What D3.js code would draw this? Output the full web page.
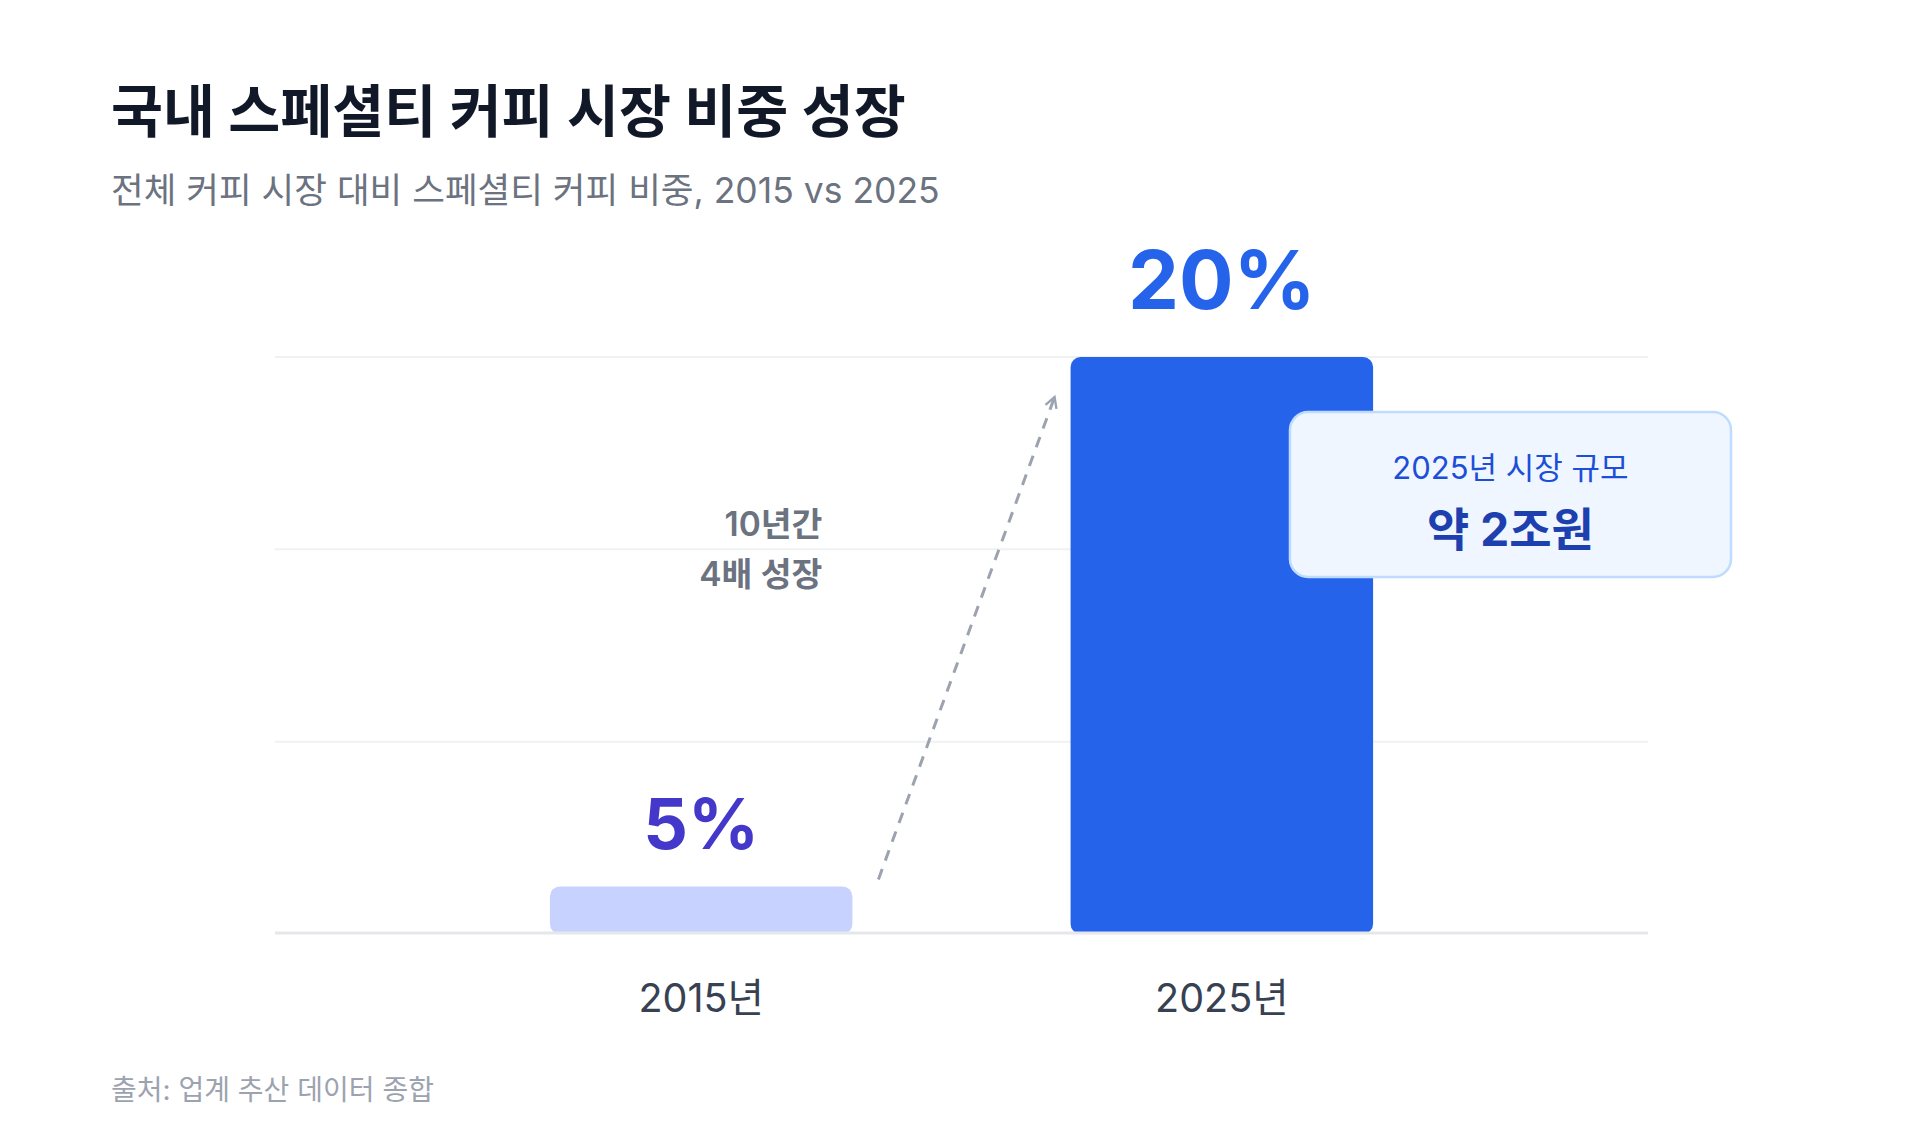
<!DOCTYPE html>
<html lang="ko">
<head>
<meta charset="utf-8">
<script src="https://cdn.jsdelivr.net/npm/d3@7"></script>
<style>
  body { margin: 0; background: #fff; }
  svg { display: block; font-family: Inter, "Noto Sans CJK KR", sans-serif; }
</style>
</head>
<body>
<div id="chart"></div>
<script>
// chart data
const years = ["2015년", "2025년"];
const shares = [5, 20];
const shareLabels = ["5%", "20%"];
const titleText = "국내 스페셜티 커피 시장 비중 성장";
const subtitleText = "전체 커피 시장 대비 스페셜티 커피 비중, 2015 vs 2025";
const growthNote = ["10년간", "4배 성장"];
const calloutLines = ["2025년 시장 규모", "약 2조원"];
const sourceText = "출처: 업계 추산 데이터 종합";

(function() {
    const W = 1920, H = 1147;
    const plot = { left: 275, right: 1648, top: 357, bottom: 934 };

    const svg = d3.select("#chart").append("svg")
        .attr("width", W)
        .attr("height", H);

    // titles
    svg.append("text")
        .attr("x", 111).attr("y", 132)
        .attr("font-size", 56.5).attr("font-weight", 700)
        .attr("fill", "#111827")
        .text(titleText);
    svg.append("text")
        .attr("x", 111).attr("y", 203)
        .attr("font-size", 35.5)
        .attr("fill", "#6b7280")
        .text(subtitleText);

    const x = d3.scaleBand()
        .domain(years)
        .range([plot.left, plot.right])
        .paddingInner(0.419)
        .paddingOuter(0.528);

    // growth is emphasised: power scale instead of linear
    const y = d3.scalePow().exponent(1.8)
        .domain([0, d3.max(shares)])
        .range([plot.bottom, plot.top]);

    const color = d3.scaleOrdinal().domain(years).range(["#c7d2fe", "#2563eb"]);
    const labelColor = d3.scaleOrdinal().domain(years).range(["#4338ca", "#2563eb"]);
    const labelSize = d3.scaleOrdinal().domain(years).range([70, 81]);

    // gridlines, evenly spaced
    const gridYs = d3.range(3).map(i => plot.top + (plot.bottom - plot.top) * i / 3);
    svg.append("g").selectAll("line")
        .data(gridYs)
        .enter().append("line")
        .attr("x1", plot.left).attr("x2", plot.right)
        .attr("y1", d => d).attr("y2", d => d)
        .attr("stroke", "#f0f1f4")
        .attr("stroke-width", 2);

    const data = years.map((yr, i) => ({ year: yr, value: shares[i], label: shareLabels[i] }));

    // bars
    svg.append("g").selectAll("rect")
        .data(data)
        .enter().append("rect")
        .attr("x", d => x(d.year))
        .attr("y", d => y(d.value))
        .attr("width", x.bandwidth())
        .attr("height", d => plot.bottom - y(d.value))
        .attr("rx", 10)
        .attr("fill", d => color(d.year));

    // baseline
    svg.append("line")
        .attr("x1", plot.left).attr("x2", plot.right)
        .attr("y1", plot.bottom - 1).attr("y2", plot.bottom - 1)
        .attr("stroke", "#e5e7eb")
        .attr("stroke-width", 3);

    // value labels
    svg.append("g").selectAll("text")
        .data(data)
        .enter().append("text")
        .attr("x", d => x(d.year) + x.bandwidth() / 2)
        .attr("y", (d, i) => y(d.value) - (i === 0 ? 37 : 48))
        .attr("text-anchor", "middle")
        .attr("font-size", d => labelSize(d.year))
        .attr("font-weight", 700)
        .attr("fill", d => labelColor(d.year))
        .text(d => d.label);

    // category labels
    svg.append("g").selectAll("text")
        .data(years)
        .enter().append("text")
        .attr("x", d => x(d) + x.bandwidth() / 2)
        .attr("y", plot.bottom + 78)
        .attr("text-anchor", "middle")
        .attr("font-size", 39.5)
        .attr("fill", "#374151")
        .text(d => d);

    // dashed growth arrow
    svg.append("defs").append("marker")
        .attr("id", "arrowhead")
        .attr("viewBox", "0 0 12 12")
        .attr("refX", 10).attr("refY", 6)
        .attr("markerWidth", 14).attr("markerHeight", 14)
        .attr("markerUnits", "userSpaceOnUse")
        .attr("orient", "auto")
        .append("path")
        .attr("d", "M1,1 L10,6 L1,11")
        .attr("fill", "none")
        .attr("stroke", "#9ca3af")
        .attr("stroke-width", 2);

    const x0 = x(years[0]) + x.bandwidth() + 26, y0 = y(shares[0]) - 7;
    const x1 = x(years[1]) - 16, y1 = y(shares[1]) + 40;
    svg.append("line")
        .attr("x1", x0).attr("y1", y0)
        .attr("x2", x1).attr("y2", y1)
        .attr("stroke", "#9ca3af")
        .attr("stroke-width", 3)
        .attr("stroke-dasharray", "11 9")
        .attr("marker-end", "url(#arrowhead)");

    // growth note
    svg.append("g").selectAll("text")
        .data(growthNote)
        .enter().append("text")
        .attr("x", x(years[0]) + x.bandwidth() - 30)
        .attr("y", (d, i) => 536 + i * 50)
        .attr("text-anchor", "end")
        .attr("font-size", 33.5)
        .attr("font-weight", 600)
        .attr("fill", "#6b7280")
        .text(d => d);

    // callout box
    const box = { x: 1290, y: 412, w: 441, h: 165 };
    svg.append("rect")
        .attr("x", box.x).attr("y", box.y)
        .attr("width", box.w).attr("height", box.h)
        .attr("rx", 18)
        .attr("fill", "#eff6ff")
        .attr("stroke", "#bfdbfe")
        .attr("stroke-width", 2.5);
    svg.append("text")
        .attr("x", box.x + box.w / 2).attr("y", box.y + 67)
        .attr("text-anchor", "middle")
        .attr("font-size", 31)
        .attr("fill", "#1d4ed8")
        .text(calloutLines[0]);
    svg.append("text")
        .attr("x", box.x + box.w / 2).attr("y", box.y + 134)
        .attr("text-anchor", "middle")
        .attr("font-size", 46)
        .attr("font-weight", 700)
        .attr("fill", "#1e40af")
        .text(calloutLines[1]);

    // source
    svg.append("text")
        .attr("x", 111).attr("y", 1100)
        .attr("font-size", 28)
        .attr("fill", "#9ca3af")
        .text(sourceText);
})();
</script>
</body>
</html>
